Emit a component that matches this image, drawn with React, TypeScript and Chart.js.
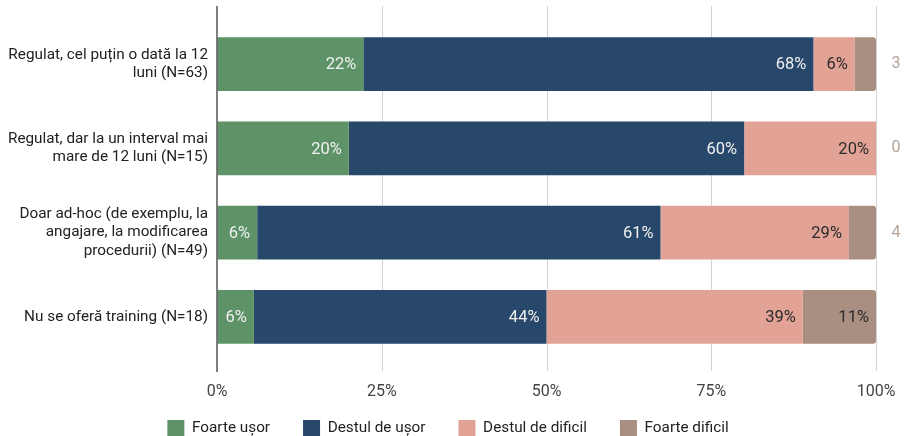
import { useEffect, useRef } from "react";
import { Chart, registerables } from "chart.js";
Chart.register(...registerables);

const categories: string[][] = [
  ["Regulat, cel puțin o dată la 12", "luni (N=63)"],
  ["Regulat, dar la un interval mai", "mare de 12 luni (N=15)"],
  ["Doar ad-hoc (de exemplu, la", "angajare, la modificarea", "procedurii) (N=49)"],
  ["Nu se oferă training (N=18)"],
];
const seriesNames = ["Foarte ușor", "Destul de ușor", "Destul de dificil", "Foarte dificil"];
const foarteUsor = [22.2, 20.0, 6.1, 5.6];
const destulDeUsor = [68.3, 60.0, 61.2, 44.4];
const destulDeDificil = [6.3, 20.0, 28.6, 38.9];
const foarteDificil = [3.2, 0, 4.1, 11.1];
const xTickValues = [0, 25, 50, 75, 100];
const colors = ["#5e9367", "#27486a", "#e2a396", "#a98f82"];

const extGrid = {
  id: "extGrid",
  beforeDatasetsDraw(chart: any) {
    const { ctx, chartArea, scales } = chart;
    const x = scales.x;
    const top = chartArea.top - 16;
    const bottom = chartArea.bottom + 12;
    ctx.save();
    ctx.strokeStyle = "#d2d2d2";
    ctx.lineWidth = 1;
    xTickValues.forEach((v) => {
      if (v === 0) return;
      const px = Math.round(x.getPixelForValue(v)) + 0.5;
      ctx.beginPath();
      ctx.moveTo(px, top);
      ctx.lineTo(px, bottom);
      ctx.stroke();
    });
    ctx.restore();
  },
  afterDatasetsDraw(chart: any) {
    const { ctx, chartArea, scales } = chart;
    const x = scales.x;
    const top = chartArea.top - 16;
    const bottom = chartArea.bottom + 13;
    ctx.save();
    ctx.strokeStyle = "#555555";
    ctx.lineWidth = 1.5;
    const px = x.getPixelForValue(0);
    ctx.beginPath();
    ctx.moveTo(px, top);
    ctx.lineTo(px, bottom);
    ctx.stroke();

    ctx.textBaseline = "middle";
    chart.data.datasets.forEach((ds: any, di: number) => {
      const meta = chart.getDatasetMeta(di);
      meta.data.forEach((bar: any, i: number) => {
        const v = ds.data[i] as number;
        const r = Math.round(v);
        if (di === 3 && v < 6) {
          ctx.font = "16px Roboto";
          ctx.fillStyle = "#b6a499";
          ctx.textAlign = "center";
          ctx.fillText(String(r), chartArea.right + 20, bar.y);
          return;
        }
        ctx.font = "16.5px Roboto";
        ctx.fillStyle = di < 2 ? "#f0f0f0" : "#2b2b2b";
        ctx.textAlign = "right";
        ctx.fillText(r + "%", bar.x - 7, bar.y + 1);
      });
    });
    ctx.restore();
  },
};

const noClip = (s: any) => {
  s._computeLabelArea = () => undefined;
};

export default function App() {
  const ref = useRef<HTMLCanvasElement | null>(null);
  useEffect(() => {
    if (!ref.current) return;
    Chart.defaults.font.family = "Roboto";
    const seriesData = [foarteUsor, destulDeUsor, destulDeDificil, foarteDificil];
    const chart = new Chart(ref.current, {
      type: "bar",
      data: {
        labels: categories,
        datasets: seriesNames.map((name, i) => ({
          label: name,
          data: seriesData[i],
          backgroundColor: colors[i],
          borderWidth: 0,
          borderRadius: i === 3 ? 3 : 0,
          categoryPercentage: 0.8,
          barPercentage: 0.8,
        })),
      },
      options: {
        indexAxis: "y",
        responsive: false,
        animation: false,
        layout: { padding: { top: 22, right: 34, left: 20, bottom: 0 } },
        scales: {
          x: {
            stacked: true,
            min: 0,
            max: 100,
            afterBuildTicks: (s: any) => {
              s.ticks = xTickValues.map((v) => ({ value: v }));
            },
            afterFit: (s: any) => {
              s.height = 28;
              noClip(s);
            },
            ticks: {
              callback: (v: any) => v + "%",
              color: "#444",
              font: { size: 16 },
              padding: 11,
              maxRotation: 0,
            },
            grid: { display: true, color: "rgba(0,0,0,0)", drawTicks: true, tickLength: 12 },
            border: { display: false },
          },
          y: {
            stacked: true,
            afterFit: (s: any) => {
              s.width = 197;
              noClip(s);
            },
            ticks: { color: "#222", font: { size: 15.3, lineHeight: 1.2 }, padding: 9 },
            grid: { display: false, drawTicks: false },
            border: { display: false },
          },
        },
        plugins: {
          legend: {
            position: "bottom",
            maxHeight: 49,
            labels: {
              boxWidth: 17,
              boxHeight: 17,
              padding: 33,
              color: "#222",
              font: { size: 15.3 },
            },
          },
          tooltip: { enabled: false },
        },
      },
      plugins: [extGrid],
    } as any);
    return () => chart.destroy();
  }, []);
  return (
    <div style={{ position: "fixed", left: 0, top: 0, width: 910, height: 436 }}>
      <canvas ref={ref} width={910} height={436} />
    </div>
  );
}
